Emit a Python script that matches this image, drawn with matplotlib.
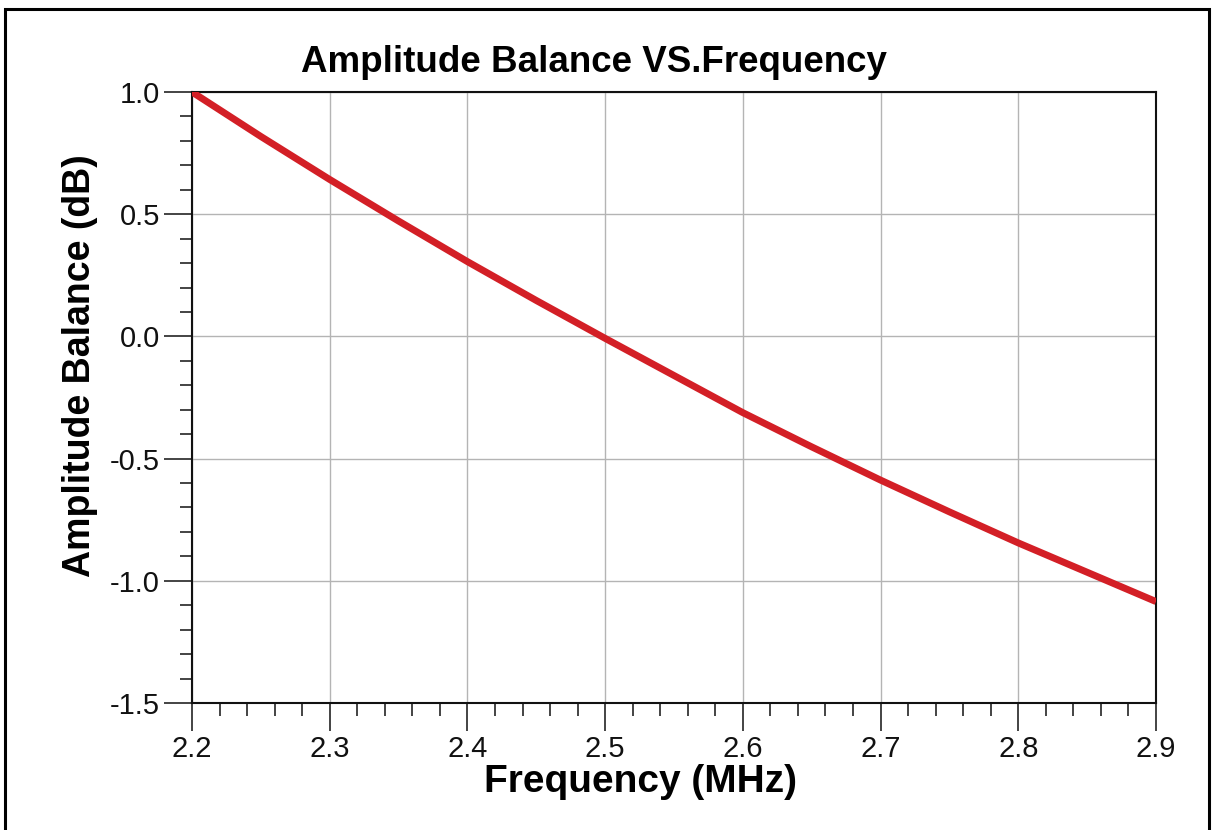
import numpy as np
import matplotlib
matplotlib.use("Agg")
import matplotlib.pyplot as plt
from matplotlib.patches import Rectangle
from matplotlib.ticker import MultipleLocator

# frequency (MHz) and amplitude balance (dB)
freq = [2.20, 2.25, 2.30, 2.35, 2.40, 2.45, 2.50, 2.55, 2.60, 2.65, 2.70, 2.75, 2.80, 2.85, 2.90]
balance = [1.00, 0.818, 0.642, 0.472, 0.306, 0.147, -0.008, -0.160, -0.312, -0.452, -0.588, -0.718, -0.845, -0.965, -1.085]

x_ticks = [2.2, 2.3, 2.4, 2.5, 2.6, 2.7, 2.8, 2.9]
y_ticks = [-1.5, -1.0, -0.5, 0.0, 0.5, 1.0]

plt.rcParams['font.family'] = ['Liberation Sans', 'DejaVu Sans']

W, H = 1214, 830
fig = plt.figure(figsize=(W / 100, H / 100), dpi=100)
ax = fig.add_axes([192 / W, 1 - 703 / H, (1156 - 192) / W, (703 - 92) / H])

ax.plot(freq, balance, color='#d31f26', lw=5, solid_capstyle='butt', zorder=3)

ax.set_xlim(2.2, 2.9)
ax.set_ylim(-1.5, 1.0)
ax.set_xticks(x_ticks)
ax.set_yticks(y_ticks)
ax.set_xticklabels([f"{v:.1f}" for v in x_ticks])
ax.set_yticklabels([f"{v:.1f}" for v in y_ticks])
ax.xaxis.set_minor_locator(MultipleLocator(0.02))
ax.yaxis.set_minor_locator(MultipleLocator(0.1))

ax.tick_params(which='major', direction='out', length=20, width=1.1, labelsize=21,
               colors='#111111', pad=3)
ax.tick_params(which='minor', direction='out', length=9, width=1.1, colors='#111111')
ax.grid(True, which='major', color='#b4b4b4', lw=1.0, zorder=0)

for s in ax.spines.values():
    s.set_linewidth(1.5)
    s.set_color('#111111')

fig.text(594 / W, 1 - 62 / H, 'Amplitude Balance VS.Frequency', ha='center', va='center',
         fontsize=26.5, fontweight='bold')
fig.text(640 / W, 1 - 782 / H, 'Frequency (MHz)', ha='center', va='center',
         fontsize=28, fontweight='bold')
fig.text(80 / W, 1 - 366 / H, 'Amplitude Balance (dB)', ha='center', va='center',
         rotation=90, fontsize=27, fontweight='bold')

# outer frame around the whole figure
fig.patches.append(Rectangle((5 / W, -0.05), (1209 - 5) / W, 1.05 - 9 / H,
                             transform=fig.transFigure, fill=False, lw=2.2,
                             edgecolor='black'))

fig.savefig('out.png', dpi=100)
